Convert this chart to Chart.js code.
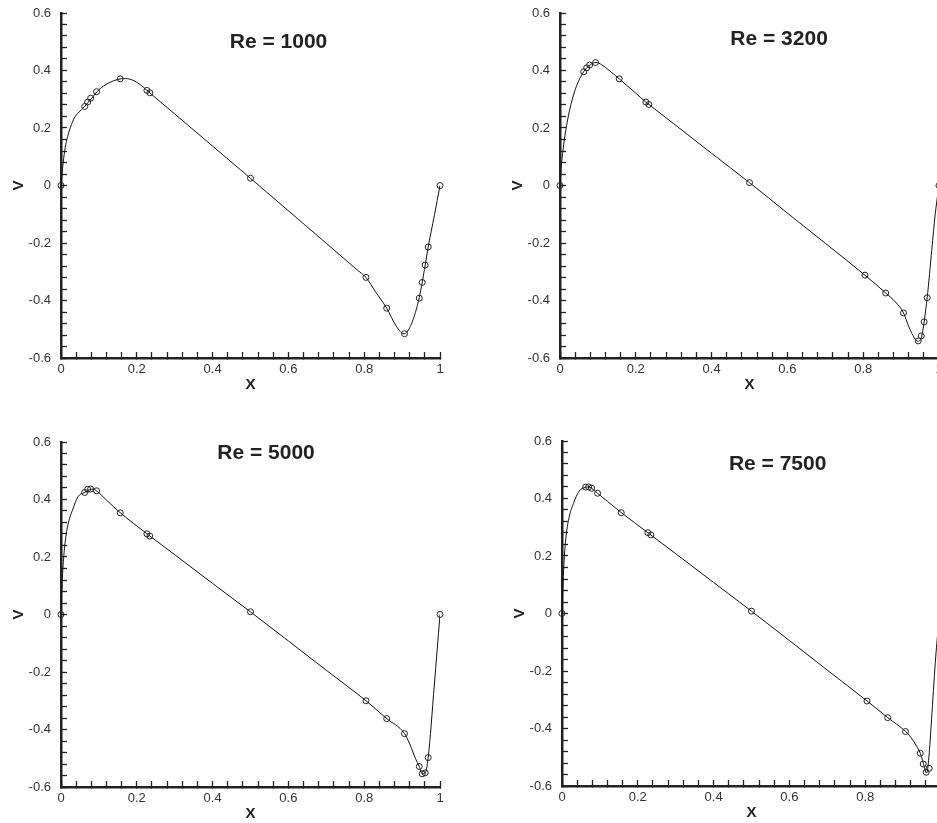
<!DOCTYPE html>
<html>
<head>
<meta charset="utf-8">
<script src="https://cdn.jsdelivr.net/npm/chart.js@4.4.1/dist/chart.umd.min.js"></script>
<style>
  html, body { margin: 0; padding: 0; background: #fff; overflow: hidden; }
  body { width: 937px; height: 823px; position: relative; }
  .panel { position: absolute; width: 460px; height: 405px; }
</style>
</head>
<body>
<div class="panel" style="left:0px;top:0px"><canvas id="re1000"></canvas></div>
<div class="panel" style="left:499px;top:0px"><canvas id="re3200"></canvas></div>
<div class="panel" style="left:0px;top:429px"><canvas id="re5000"></canvas></div>
<div class="panel" style="left:501px;top:428px"><canvas id="re7500"></canvas></div>
<script>
// Ghia et al. reference points (markers), v along the horizontal centreline
const ghiaX = [0, 0.0625, 0.0703, 0.0781, 0.0938, 0.1563, 0.2266, 0.2344, 0.5,
  0.8047, 0.8594, 0.9063, 0.9453, 0.9531, 0.9609, 0.9688, 1.0];
const ghiaV1000 = [0, 0.27485, 0.29012, 0.30353, 0.32627, 0.37095, 0.33075, 0.32235, 0.02526,
  -0.31966, -0.42665, -0.5155, -0.39188, -0.33714, -0.27669, -0.21388, 0];
const ghiaV3200 = [0, 0.3956, 0.40917, 0.41906, 0.42768, 0.37119, 0.2903, 0.28188, 0.00999,
  -0.31184, -0.37401, -0.44307, -0.54053, -0.52357, -0.47425, -0.39017, 0];
const ghiaV5000 = [0, 0.42447, 0.43564, 0.43643, 0.43025, 0.35368, 0.28066, 0.2728, 0.00945,
  -0.30018, -0.36214, -0.41442, -0.52876, -0.55408, -0.55069, -0.49774, 0];
const ghiaV7500 = [0, 0.43979, 0.4403, 0.43564, 0.41824, 0.3506, 0.28117, 0.27348, 0.00824,
  -0.30448, -0.36213, -0.4105, -0.4859, -0.52347, -0.55216, -0.53858, 0];

// computed profiles (solid line)
const lineX1000 = [0, 0.004, 0.01, 0.02, 0.03, 0.037, 0.045, 0.0625, 0.08, 0.1, 0.125, 0.15, 0.17,
  0.19, 0.21, 0.2266, 0.2344, 0.3, 0.4, 0.5, 0.6, 0.7, 0.78, 0.8047, 0.83, 0.8594, 0.885, 0.905,
  0.925, 0.9453, 0.9609, 0.9688, 0.985, 1];
const lineV1000 = [0, 0.058, 0.123, 0.182, 0.22, 0.239, 0.252, 0.275, 0.302, 0.333, 0.356, 0.369,
  0.372, 0.366, 0.35, 0.331, 0.322, 0.249, 0.137, 0.025, -0.088, -0.201, -0.292, -0.32, -0.37,
  -0.427, -0.49, -0.516, -0.48, -0.39, -0.277, -0.214, -0.105, 0];

const lineX3200 = [0, 0.003, 0.008, 0.015, 0.025, 0.04, 0.0625, 0.08, 0.095, 0.11, 0.13, 0.1563,
  0.2, 0.2266, 0.2344, 0.3, 0.4, 0.5, 0.6, 0.7, 0.8047, 0.8594, 0.885, 0.9063, 0.92, 0.935, 0.9453,
  0.955, 0.9688, 0.981, 0.99, 1];
const lineV3200 = [0, 0.06, 0.125, 0.19, 0.26, 0.333, 0.396, 0.42, 0.428, 0.42, 0.4, 0.371,
  0.321, 0.29, 0.282, 0.215, 0.112, 0.01, -0.096, -0.201, -0.312, -0.374, -0.405, -0.443, -0.49,
  -0.53, -0.542, -0.52, -0.39, -0.223, -0.1, 0];

const lineX5000 = [0, 0.002, 0.005, 0.01, 0.018, 0.03, 0.045, 0.0625, 0.075, 0.085, 0.0938, 0.12,
  0.1563, 0.2266, 0.2344, 0.3, 0.4, 0.5, 0.6, 0.7, 0.8047, 0.8594, 0.9063, 0.92, 0.935, 0.9453,
  0.9531, 0.9609, 0.9688, 0.985, 1];
const lineV5000 = [0, 0.08, 0.16, 0.24, 0.31, 0.362, 0.41, 0.4245, 0.434, 0.436, 0.43, 0.398,
  0.354, 0.281, 0.273, 0.208, 0.108, 0.009, -0.092, -0.194, -0.3, -0.362, -0.414, -0.45, -0.5,
  -0.529, -0.554, -0.551, -0.498, -0.245, 0];

const lineX7500 = [0, 0.002, 0.005, 0.01, 0.018, 0.03, 0.045, 0.0625, 0.0703, 0.0781, 0.0938, 0.12,
  0.1563, 0.2266, 0.2344, 0.3, 0.4, 0.5, 0.6, 0.7, 0.8047, 0.8594, 0.9063, 0.92, 0.935, 0.9453,
  0.9531, 0.962, 0.968, 0.975, 0.985, 0.993, 1];
const lineV7500 = [0, 0.08, 0.17, 0.26, 0.33, 0.382, 0.425, 0.439, 0.44, 0.436, 0.418, 0.39,
  0.351, 0.281, 0.273, 0.208, 0.108, 0.008, -0.094, -0.197, -0.304, -0.362, -0.41, -0.43, -0.46,
  -0.486, -0.52, -0.555, -0.5, -0.37, -0.17, -0.05, 0];

const xMajor = [0, 0.2, 0.4, 0.6, 0.8, 1];
const vMajor = [-0.6, -0.4, -0.2, 0, 0.2, 0.4, 0.6];
const minorStep = 0.04;

const FONT = '"Liberation Sans", Arial, Helvetica, sans-serif';
Chart.defaults.font.family = FONT;
Chart.defaults.font.size = 13;
Chart.defaults.color = "#333";

function tickList(lo, hi) {
  const out = [];
  const n = Math.round((hi - lo) / minorStep);
  for (let i = 0; i <= n; i++) out.push({ value: +(lo + i * minorStep).toFixed(2) });
  return out;
}

function majorLabel(majors) {
  return (value) => {
    const m = majors.find((t) => Math.abs(t - value) < 1e-6);
    return m === undefined ? "" : String(m);
  };
}

// "Re = ..." label placed in data coordinates
const reLabel = {
  id: "reLabel",
  afterDatasetsDraw(chart, args, opts) {
    const { ctx, scales } = chart;
    ctx.save();
    ctx.font = "bold 21px " + FONT;
    ctx.fillStyle = "#222";
    ctx.textAlign = "center";
    ctx.textBaseline = "middle";
    ctx.fillText(opts.text, scales.x.getPixelForValue(opts.x), scales.y.getPixelForValue(opts.y));
    ctx.restore();
  },
};

function axis(min, max, majors, title, size) {
  const horizontal = title === "X";
  return {
    type: "linear",
    min: min,
    max: max,
    afterBuildTicks: (scale) => { scale.ticks = tickList(min, max); },
    afterFit: (s) => {
      if (horizontal) s.height = size;
      else s.width = size;
      // labels must not push the plot area in
      s.paddingTop = 0;
      s.paddingBottom = 0;
      s.paddingLeft = 0;
      s.paddingRight = 0;
    },
    ticks: {
      autoSkip: false,
      maxRotation: 0,
      padding: horizontal ? 10 : 16,
      color: "#333",
      callback: majorLabel(majors),
    },
    grid: {
      drawOnChartArea: false,
      drawTicks: true,
      tickLength: -6,
      tickWidth: 1.3,
      tickColor: "#222",
    },
    border: { display: true, width: 2.5, color: "#222" },
    title: {
      display: true,
      text: title,
      color: "#222",
      font: { size: 15, weight: "bold" },
      padding: horizontal ? { bottom: 11 } : { top: 9.5 },
    },
  };
}

function makePanel(id, re, markV, lineX, lineV, labelAt) {
  new Chart(document.getElementById(id), {
    type: "scatter",
    data: {
      datasets: [
        {
          data: ghiaX.map((x, i) => ({ x: x, y: markV[i] })),
          showLine: false,
          pointRadius: 3,
          pointHoverRadius: 3,
          pointBorderWidth: 1,
          pointBorderColor: "#222",
          pointBackgroundColor: "rgba(0,0,0,0)",
          clip: false,
        },
        {
          data: lineX.map((x, i) => ({ x: x, y: lineV[i] })),
          showLine: true,
          borderColor: "#111",
          borderWidth: 1,
          pointRadius: 0,
          cubicInterpolationMode: "monotone",
        },
      ],
    },
    options: {
      responsive: true,
      maintainAspectRatio: false,
      animation: false,
      events: [],
      layout: { padding: { top: 13, right: 20, bottom: 0, left: 0 } },
      plugins: {
        legend: { display: false },
        tooltip: { enabled: false },
        reLabel: { text: "Re = " + re, x: labelAt[0], y: labelAt[1] },
      },
      scales: {
        x: axis(0, 1, xMajor, "X", 47),
        y: axis(-0.6, 0.6, vMajor, "V", 61),
      },
    },
    plugins: [reLabel],
  });
}

makePanel("re1000", 1000, ghiaV1000, lineX1000, lineV1000, [0.574, 0.499]);
makePanel("re3200", 3200, ghiaV3200, lineX3200, lineV3200, [0.578, 0.51]);
makePanel("re5000", 5000, ghiaV5000, lineX5000, lineV5000, [0.541, 0.562]);
makePanel("re7500", 7500, ghiaV7500, lineX7500, lineV7500, [0.569, 0.519]);
</script>
</body>
</html>
